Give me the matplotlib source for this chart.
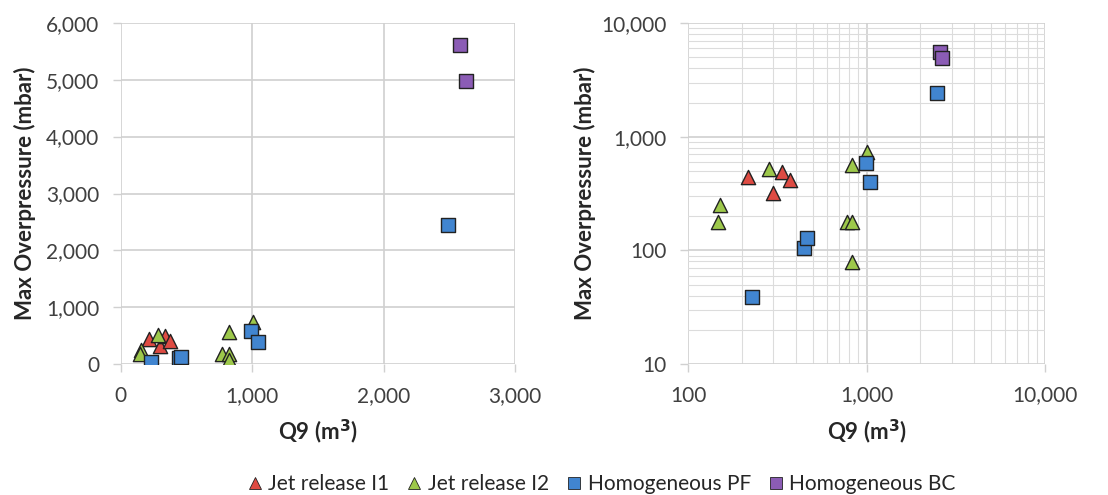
import matplotlib
matplotlib.use("Agg")
import matplotlib.pyplot as plt
from matplotlib.ticker import FuncFormatter, LogLocator, NullFormatter
from matplotlib.lines import Line2D

plt.rcParams['font.family'] = ['Lato', 'DejaVu Sans']

# Data
i1_x = [217, 297, 334, 372]
i1_y = [445, 322, 493, 417]
i2_x = [151, 146, 285, 825, 1009, 773, 825, 825]
i2_y = [251, 179, 517, 565, 739, 179, 179, 78.5]
pf_x = [229, 446, 461, 993, 1045, 2490]
pf_y = [39, 104, 129, 584, 398, 2449]
bc_x = [2580, 2630]
bc_y = [5600, 4980]

series = [
    ("Jet release I1", i1_x, i1_y, "^", "#DE4B43"),
    ("Jet release I2", i2_x, i2_y, "^", "#9DC84B"),
    ("Homogeneous PF", pf_x, pf_y, "s", "#4185D0"),
    ("Homogeneous BC", bc_x, bc_y, "s", "#8B5CB5"),
]

W, H = 1108, 495
fig = plt.figure(figsize=(W / 100, H / 100), dpi=100)
ax1 = fig.add_axes([120.7 / W, 1 - 364.3 / H, (515 - 120.7) / W, (364.3 - 22.7) / H])
ax2 = fig.add_axes([688.3 / W, 1 - 364 / H, (1045 - 688.3) / W, (364 - 23.3) / H])

comma = FuncFormatter(lambda v, p: f"{v:,.0f}")
grid_col = "#D0D0D0"

for ax in (ax1, ax2):
    for name, xs, ys, m, c in series:
        ax.scatter(xs, ys, marker=m, s=100 if m == "s" else 105, c=c,
                   edgecolors="#222222", linewidths=1.0, zorder=3)
    for sp in ax.spines.values():
        sp.set_visible(False)
    ax.tick_params(axis="both", which="both", color=grid_col, labelsize=15,
                   labelcolor="#404040", length=5.5, width=1)
    ax.tick_params(axis="y", pad=10)
    ax.tick_params(axis="x", pad=10)
    ax.set_ylabel("Max Overpressure (mbar)", fontsize=16, fontweight="bold",
                  color="#262626")
    ax.set_xlabel("Q9 (m$^\\mathbf{3}$)", fontsize=16, fontweight="bold",
                  color="#262626")
    ax.xaxis.label.set_va("center")
    ax.yaxis.label.set_va("center")
    ax.set_axisbelow(True)

ax1.yaxis.set_label_coords(-0.2427, 0.5)
ax1.xaxis.set_label_coords(0.5, -0.198)
ax2.yaxis.set_label_coords(-0.2896, 0.5)
ax2.xaxis.set_label_coords(0.5, -0.198)

ax1.set_xlim(0, 3000)
ax1.set_ylim(0, 6000)
ax1.set_xticks([0, 1000, 2000, 3000])
ax1.set_yticks(range(0, 6001, 1000))
ax1.xaxis.set_major_formatter(comma)
ax1.yaxis.set_major_formatter(comma)
ax1.grid(True, color=grid_col, linewidth=1.2)

ax2.set_xscale("log")
ax2.set_yscale("log")
ax2.set_xlim(100, 10000)
ax2.set_ylim(10, 10000)
ax2.xaxis.set_major_locator(LogLocator(base=10, numticks=10))
ax2.yaxis.set_major_locator(LogLocator(base=10, numticks=10))
ax2.xaxis.set_minor_locator(LogLocator(base=10, subs=range(2, 10), numticks=20))
ax2.yaxis.set_minor_locator(LogLocator(base=10, subs=range(2, 10), numticks=20))
ax2.xaxis.set_major_formatter(comma)
ax2.yaxis.set_major_formatter(comma)
ax2.xaxis.set_minor_formatter(NullFormatter())
ax2.yaxis.set_minor_formatter(NullFormatter())
ax2.tick_params(which="minor", length=0)
ax2.grid(True, which="major", color=grid_col, linewidth=1.2)
ax2.grid(True, which="minor", color="#DCDCDC", linewidth=0.8)

handles = [Line2D([], [], marker=m, linestyle="none", markerfacecolor=c,
                  markeredgecolor="#222222", markeredgewidth=0.6,
                  markersize=9 if m == "^" else 8.5)
           for name, xs, ys, m, c in series]
labels = [s[0] for s in series]
fig.legend(handles, labels, loc="center", bbox_to_anchor=(601 / W, 1 - 484 / H),
           ncol=4, frameon=False, fontsize=15, handletextpad=0.25,
           columnspacing=0.8, handlelength=0.8, labelcolor="#262626")

fig.savefig("out.png", dpi=100)
